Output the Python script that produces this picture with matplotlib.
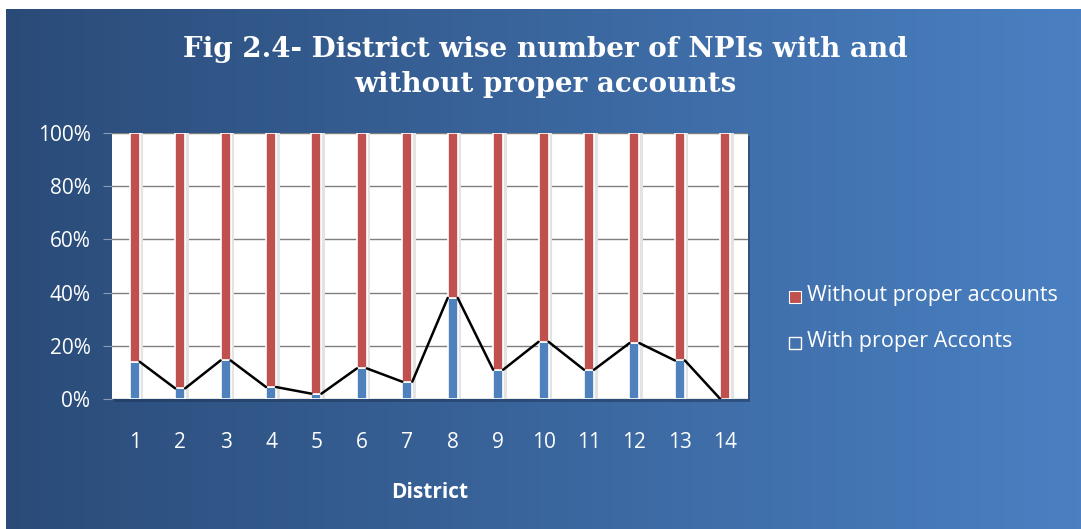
import numpy as np
import matplotlib.pyplot as plt
from matplotlib.patches import Rectangle
from matplotlib.ticker import PercentFormatter

districts = [str(i) for i in range(1, 15)]
with_proper = [14, 4, 14.5, 4.5, 2, 11.5, 6.5, 38, 11, 21.5, 11, 21, 14.5, 0]
without_proper = [100 - v for v in with_proper]

title = "Fig 2.4- District wise number of NPIs with and\nwithout proper accounts"
blue = '#4f81bd'
red = '#c0504d'

W, H = 1081, 529
fig = plt.figure(figsize=(W / 100, H / 100), dpi=100)

# gradient background
bg = fig.add_axes([0, 0, 1, 1], zorder=-10)
grad = np.linspace(0, 1, 256).reshape(1, -1)
c0 = np.array([42, 75, 120]) / 255
c1 = np.array([74, 128, 194]) / 255
img = c0 + (c1 - c0) * grad[..., None]
bg.imshow(img, aspect='auto', extent=[0, 1, 0, 1])
bg.set_xlim(0, 1)
bg.set_ylim(0, 1)
bg.axis('off')
# white strips at top and left edge
fig.patches.append(Rectangle((0, 1 - 9 / H), 1, 9 / H, transform=fig.transFigure,
                             facecolor='white', edgecolor='none', zorder=-5))
fig.patches.append(Rectangle((0, 0), 6 / W, 1, transform=fig.transFigure,
                             facecolor='white', edgecolor='none', zorder=-5))

# plot area
left, right, top, bottom = 112, 748, 133, 399
rect = [left / W, 1 - bottom / H, (right - left) / W, (bottom - top) / H]
fig.patches.append(Rectangle((rect[0] + 2 / W, rect[1] - 3 / H), rect[2], rect[3],
                             transform=fig.transFigure, facecolor='#1d3455',
                             edgecolor='none', alpha=0.5, zorder=-4))
ax = fig.add_axes(rect)
ax.set_facecolor('white')

x = np.arange(len(districts))
bw = 0.22
# light shadow to the right of each bar
ax.bar(x + bw / 2 + 0.04, [100] * len(x), width=0.08, color='#e3e3e3', zorder=2)
ax.bar(x, with_proper, width=bw, color=blue, edgecolor='white', linewidth=1.2, zorder=3)
ax.bar(x, without_proper, width=bw, bottom=with_proper, color=red,
       edgecolor='white', linewidth=1.2, zorder=3)

# series lines between bar tops
for i in range(len(x) - 1):
    ax.plot([x[i] + bw / 2, x[i + 1] - bw / 2], [with_proper[i], with_proper[i + 1]],
            color='black', linewidth=1.8, zorder=4, solid_capstyle='round')

ax.set_xlim(-0.5, len(x) - 0.5)
ax.set_ylim(0, 100)
ax.set_yticks(np.arange(0, 101, 20))
ax.yaxis.set_major_formatter(PercentFormatter(decimals=0))
ax.yaxis.grid(True, color='#7f7f7f', linewidth=1, zorder=1)
ax.set_axisbelow(True)
ax.set_xticks(x)
ax.set_xticklabels(districts)
for s in ax.spines.values():
    s.set_visible(False)
ax.tick_params(axis='y', length=6.5, color='#8a9bb5', colors='white', labelsize=15, pad=9)
ax.tick_params(axis='x', length=0, colors='white', labelsize=15, pad=24)
for lab in ax.get_xticklabels() + ax.get_yticklabels():
    lab.set_fontfamily('Open Sans')
    lab.set_color('white')
ax.set_xlabel('District', color='white', fontsize=15, fontweight='bold',
              family='Open Sans', labelpad=21)

fig.text(545 / W, 1 - 67 / H, title, ha='center', va='center', color='white',
         fontsize=20, fontweight='bold', family='DejaVu Serif', linespacing=1.35)

# legend
fig.patches.append(Rectangle((789 / W, 1 - 303 / H), 12 / W, 12 / H, transform=fig.transFigure,
                             facecolor=red, edgecolor='white', linewidth=0.8))
fig.patches.append(Rectangle((789 / W, 1 - 349 / H), 12 / W, 12 / H, transform=fig.transFigure,
                             facecolor='none', edgecolor='white', linewidth=1))
fig.text(807 / W, 1 - 296 / H, 'Without proper accounts', color='white', fontsize=15.5,
         family='Open Sans', va='center', ha='left')
fig.text(807 / W, 1 - 342 / H, 'With proper Acconts', color='white', fontsize=15.5,
         family='Open Sans', va='center', ha='left')

fig.savefig('out.png', dpi=100)
